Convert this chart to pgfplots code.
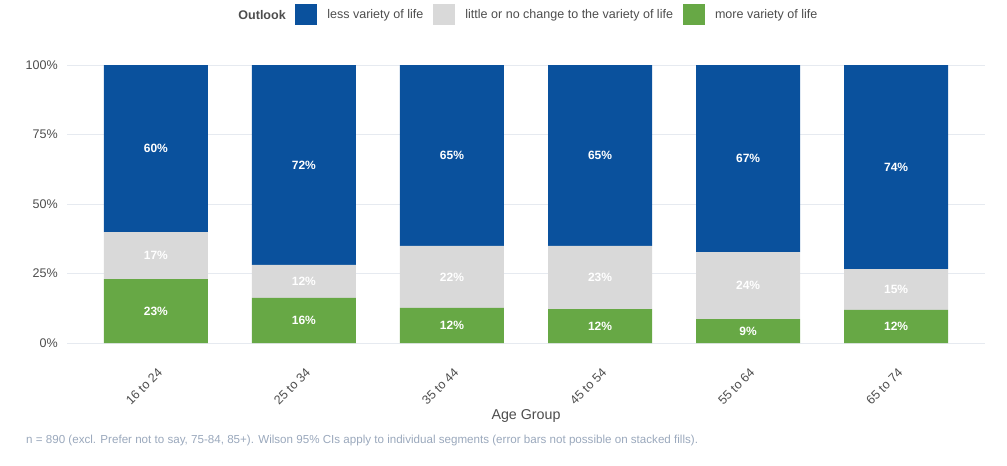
\documentclass[border=0pt]{standalone}
\usepackage{pgfplots}
\pgfplotsset{compat=1.18}
\usepackage{fontspec}
\setmainfont{Liberation Sans}
\definecolor{cblue}{HTML}{0A519D}
\definecolor{cgray}{HTML}{D9D9D9}
\definecolor{cgreen}{HTML}{67A845}
\definecolor{cgrid}{HTML}{E6EAF0}
\definecolor{ctext}{HTML}{4D4D4D}
\definecolor{cnote}{HTML}{9AA8BC}
\pgfplotsset{
  common/.style={
    width=688.5pt, height=208.5pt, scale only axis,
    xmin=-0.6, xmax=5.6, ymin=0, ymax=100,
    clip=false,
  }
}
\begin{document}
\begin{tikzpicture}
\path[use as bounding box] (-50.25pt,-91.5pt) rectangle (705pt,257.25pt);
\begin{axis}[common,
  ybar stacked, bar width=78pt,
  axis line style={draw=none},
  ymajorgrids, grid style={cgrid, line width=0.75pt},
  ytick={0,25,50,75,100},
  yticklabels={0\%,25\%,50\%,75\%,100\%},
  xtick={0,1,2,3,4,5},
  xticklabels={16 to 24,25 to 34,35 to 44,45 to 54,55 to 64,65 to 74},
  major tick length=0pt, tick style={draw=none},
  /pgf/number format/assume math mode=true,
  ticklabel style={font=\fontsize{9.4}{11}\selectfont, text=ctext},
  yticklabel style={inner sep=0pt, xshift=-6.75pt, anchor=east},
  xticklabel style={inner sep=0pt, xshift=0.8pt, yshift=-18pt, rotate=45, anchor=north east},
  xlabel={Age Group},
  xlabel style={at={(axis description cs:0.5,-0.2626)}, anchor=center, font=\fontsize{10.7}{13}\selectfont, text=ctext},
  reverse legend,
  legend columns=-1,
  legend style={at={(axis description cs:0.2484,1.18)}, anchor=west, draw=none, fill=none, inner sep=0pt,
    nodes={inner sep=0pt, font=\fontsize{9.4}{11}\selectfont, text=ctext},
    /tikz/every odd column/.append style={column sep=7.5pt},
    /tikz/every even column/.append style={column sep=7.5pt}},
  legend image code/.code={\fill[#1] (0pt,-7.9pt) rectangle (16.5pt,7.9pt);},
]
\addplot[fill=cgreen, draw=none] coordinates {(0,23.0) (1,16.2) (2,12.6) (3,12.2) (4,8.6) (5,11.9)};
\addplot[fill=cgray, draw=none] coordinates {(0,16.9) (1,11.9) (2,22.3) (3,22.7) (4,24.1) (5,14.7)};
\addplot[fill=cblue, draw=none] coordinates {(0,60.1) (1,71.9) (2,65.1) (3,65.1) (4,67.3) (5,73.4)};
\legend{more variety of life, little or no change to the variety of life, less variety of life}
\node[anchor=east, inner sep=0pt, font=\fontsize{9.4}{11}\selectfont\bfseries, text=ctext] at (axis description cs:0.2386,1.18) {Outlook};
\node[anchor=west, inner sep=0pt, font=\fontsize{8.7}{10}\selectfont, text=cnote] at (axis description cs:-0.0447,-0.3525) {n = 890 (excl. Prefer not to say, 75-84, 85+). Wilson 95\% CIs apply to individual segments (error bars not possible on stacked fills).};
\end{axis}
\begin{axis}[common, axis lines=none, xtick=\empty, ytick=\empty,
  nodes near coords, point meta=explicit symbolic,
  every node near coord/.style={anchor=center, inner sep=0pt, text=white, font=\fontsize{9}{11}\selectfont\bfseries},
]
\addplot[draw=none, mark=none] table[meta=label] {
x y label
0 11.5 23\%
1 8.1 16\%
2 6.3 12\%
3 6.1 12\%
4 4.3 9\%
5 5.95 12\%
};
\addplot[draw=none, mark=none] table[meta=label] {
x y label
0 31.45 17\%
1 22.15 12\%
2 23.75 22\%
3 23.55 23\%
4 20.65 24\%
5 19.25 15\%
};
\addplot[draw=none, mark=none] table[meta=label] {
x y label
0 69.95 60\%
1 64.05 72\%
2 67.45 65\%
3 67.45 65\%
4 66.35 67\%
5 63.3 74\%
};
\end{axis}
\end{tikzpicture}
\end{document}
